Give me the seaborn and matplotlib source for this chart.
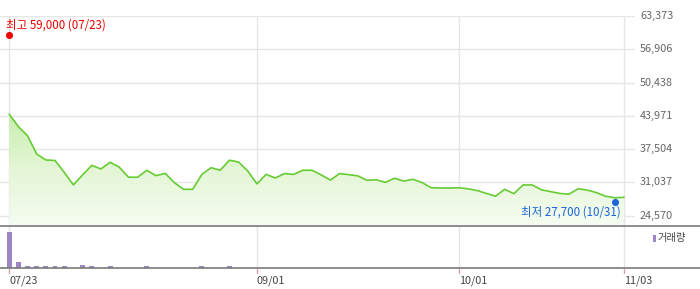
import numpy as np
import pandas as pd
import matplotlib
matplotlib.use("Agg")
import matplotlib.pyplot as plt
import matplotlib.transforms as mtransforms
from matplotlib.lines import Line2D
from matplotlib.colors import LinearSegmentedColormap
import seaborn as sns

# ---- data ----
prices = [44300, 41900, 40100, 36550, 35400, 35300, 33000, 30550, 32500, 34350,
          33650, 34950, 34000, 32050, 32050, 33400, 32350, 32800, 31000, 29700,
          29700, 32600, 33900, 33400, 35350, 35000, 33250, 30750, 32600, 31900,
          32750, 32600, 33400, 33400, 32500, 31500, 32750, 32550, 32300, 31450,
          31550, 31050, 31850, 31300, 31650, 31000, 30000, 29950, 29950, 30000,
          29800, 29450, 28900, 28350, 29700, 28850, 30550, 30550, 29600, 29250,
          28900, 28750, 29800, 29550, 29050, 28350, 28050, 28150]
volumes = [100, 16, 6, 6, 6, 6, 6, 0, 9, 6,
           0, 6, 0, 0, 0, 6, 0, 0, 0, 0,
           0, 6, 0, 0, 6, 0, 0, 0, 0, 0,
           0, 0, 0, 0, 0, 0, 0, 0, 0, 0,
           0, 0, 0, 0, 0, 0, 0, 0, 0, 0,
           0, 0, 0, 0, 0, 0, 0, 0, 0, 0,
           0, 0, 0, 0, 0, 0, 0, 0]
tick_index = [0, 27, 49, 67]
tick_labels = ["07/23", "09/01", "10/01", "11/03"]
y_ticks = [24570, 31037, 37504, 43971, 50438, 56906, 63373]
high_idx, high_val, high_label = 0, 59000, "최고 59,000 (07/23)"
low_idx, low_val, low_label = 66, 27700, "최저 27,700 (10/31)"
vol_label = "거래량"

df = pd.DataFrame({"idx": np.arange(len(prices)), "price": prices, "volume": volumes})

sns.set_theme(style="white")
plt.rcParams["font.family"] = ["Noto Sans CJK KR", "DejaVu Sans"]

W, H = 700, 289
fig = plt.figure(figsize=(W / 100, H / 100), dpi=100)
fig.patch.set_facecolor("white")

def fx(px):
    return px / W

def fy(py):
    return 1 - py / H

x0, x1 = -1.0, 68.2
ax = fig.add_axes([0, fy(225.7), fx(635), fy(16) - fy(225.7)])
axv = fig.add_axes([0, fy(268.3), fx(635), fy(225.7) - fy(268.3)])

ymin, ymax = 22627, 63373
ax.set_xlim(x0, x1)
ax.set_ylim(ymin, ymax)

# grid
for yv in y_ticks:
    ax.axhline(yv, color="#e6e6e6", lw=1.0, zorder=0)
for xi in tick_index:
    ax.axvline(xi, color="#e6e6e6", lw=1.0, zorder=0)
    axv.axvline(xi, color="#e6e6e6", lw=1.0, zorder=0)

# gradient fill under line
poly = ax.fill_between(df["idx"], df["price"], ymin, color="none", lw=0)
cmap = LinearSegmentedColormap.from_list("g", ["#f6fcf2", "#e4f6d6", "#c9eeae"])
grad = np.linspace(0, 1, 256).reshape(-1, 1)
img = ax.imshow(grad, extent=[0, len(prices) - 1, ymin, max(prices)], origin="lower",
                aspect="auto", cmap=cmap, zorder=1)
path = poly.get_paths()[0]
img.set_clip_path(path, transform=ax.transData)
ax.set_xlim(x0, x1)
ax.set_ylim(ymin, ymax)

sns.lineplot(data=df, x="idx", y="price", ax=ax, color="#66cc33", lw=1.2, zorder=3)

# high / low markers
up = mtransforms.offset_copy(ax.transData, fig=fig, x=0, y=3.5, units="dots")
dn = mtransforms.offset_copy(ax.transData, fig=fig, x=0, y=-2.5, units="dots")
ax.scatter([high_idx], [high_val], s=26, color="#ee0000", zorder=5, transform=up, linewidths=0)
ax.scatter([low_idx], [low_val], s=26, color="#1a66d9", zorder=5, transform=dn, linewidths=0)
fig.text(fx(6.5), fy(25), high_label, color="#ee0000", fontsize=8.3, ha="left", va="center")
fig.text(fx(621), fy(212.5), low_label, color="#1a66d9", fontsize=8.3, ha="right", va="center")

# y labels on right
for yv in y_ticks:
    ypix = 16 + (ymax - yv) / (ymax - ymin) * (225.7 - 16)
    fig.text(fx(640), fy(ypix), f"{yv:,}", color="#666666", fontsize=7.8, ha="left", va="center")

ax.set_xticks([])
ax.set_yticks([])
ax.set_xlabel("")
ax.set_ylabel("")
for s in ax.spines.values():
    s.set_visible(False)
ax.patch.set_alpha(0)

# volume bars
sns.barplot(data=df, x="idx", y="volume", ax=axv, native_scale=True, color="#9b86c6",
            width=0.52, saturation=1, linewidth=0, zorder=2)
axv.set_xlim(x0, x1)
axv.set_ylim(0, 100 / 0.86)
axv.set_xticks([])
axv.set_yticks([])
axv.set_xlabel("")
axv.set_ylabel("")
for s in axv.spines.values():
    s.set_visible(False)
axv.patch.set_alpha(0)

# separator lines across full width
for py in (225.7, 268.3):
    fig.add_artist(Line2D([0, 1], [fy(py), fy(py)], transform=fig.transFigure,
                          color="#7a7a7a", lw=1.2))

# x ticks and labels
for xi, lab in zip(tick_index, tick_labels):
    px = 9.3 + xi * 9.17
    fig.add_artist(Line2D([fx(px), fx(px)], [fy(269), fy(272.5)], transform=fig.transFigure,
                          color="#d9a0a0", lw=1.0))
    fig.text(fx(px), fy(280.5), lab, color="#444444", fontsize=7.8, ha="left", va="center")

# volume legend
fig.add_artist(plt.Rectangle((fx(652.5), fy(242)), fx(3), fy(235) - fy(242),
                             transform=fig.transFigure, color="#9b86c6", lw=0))
fig.text(fx(658), fy(238.5), vol_label, color="#444444", fontsize=7.4, ha="left", va="center")

fig.savefig("out.png", dpi=100, facecolor="white")
